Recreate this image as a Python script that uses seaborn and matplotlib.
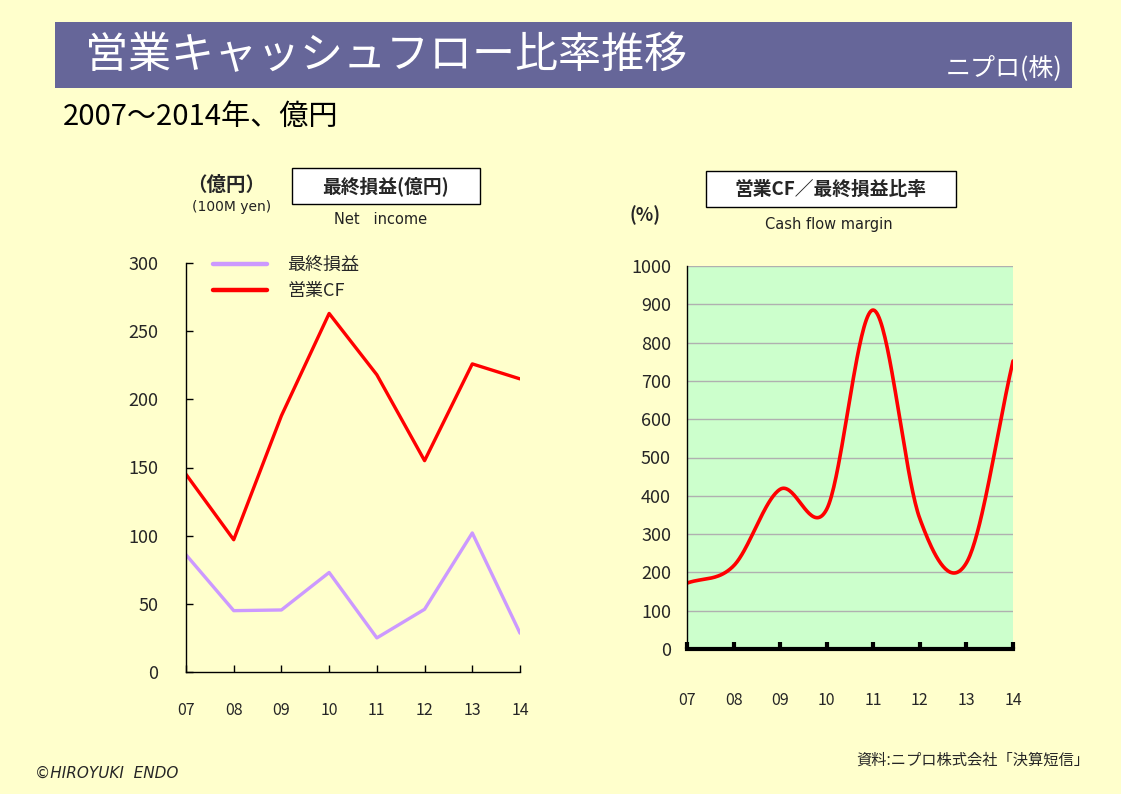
import numpy as np
import pandas as pd
import matplotlib
matplotlib.use("Agg")
import matplotlib.pyplot as plt
from matplotlib.patches import Rectangle
import seaborn as sns

# ---- data ----
years = ["07", "08", "09", "10", "11", "12", "13", "14"]
net_income = [86, 45, 45.5, 73, 25, 46, 102, 28.5]
operating_cf = [145, 97, 188, 263, 218, 155, 226, 215]
cf_ratio = [172, 217, 417, 365, 885, 340, 225, 752]
left_yticks = [0, 50, 100, 150, 200, 250, 300]
right_yticks = [0, 100, 200, 300, 400, 500, 600, 700, 800, 900, 1000]

sns.set_theme(style="white")
plt.rcParams['font.family'] = ['Noto Sans CJK JP', 'DejaVu Sans']

W, H = 1121, 794
BG = "#FFFFCC"
fig = plt.figure(figsize=(W / 100, H / 100), dpi=100, facecolor=BG)


def fx(x):
    return x / W


def fy(y):
    return 1 - y / H


def ax_rect(x0, y0, x1, y1):
    return [fx(x0), fy(y1), fx(x1) - fx(x0), (y1 - y0) / H]


def box(x0, y0, x1, y1):
    fig.patches.append(Rectangle((fx(x0), fy(y1)), fx(x1) - fx(x0), (y1 - y0) / H,
                                 transform=fig.transFigure, fc="white",
                                 ec="black", lw=1, zorder=1))


# ---- title bar ----
bar = fig.add_axes(ax_rect(55, 22, 1072, 88))
bar.set_facecolor("#666699")
bar.set_xticks([]); bar.set_yticks([])
for s in bar.spines.values():
    s.set_visible(False)
fig.text(fx(85), fy(56), "営業キャッシュフロー比率推移", color="white", fontsize=31,
         va="center", ha="left")
fig.text(fx(1063), fy(68), "ニプロ(株)", color="white", fontsize=18,
         va="center", ha="right")
fig.text(fx(63), fy(117), "2007～2014年、億円", color="black", fontsize=21,
         va="center", ha="left")

# ---- left chart ----
axL = fig.add_axes(ax_rect(186, 263, 520, 672))
axL.set_facecolor("none")
dfL = pd.DataFrame({
    "x": list(range(len(years))) * 2,
    "value": net_income + operating_cf,
    "series": ["最終損益"] * len(years) + ["営業CF"] * len(years),
})
sns.lineplot(data=dfL, x="x", y="value", hue="series",
             palette={"最終損益": "#CC99FF", "営業CF": "#FF0000"},
             linewidth=2.4, ax=axL, estimator=None, sort=False)
axL.set_xlim(0, len(years) - 1)
axL.set_ylim(0, 300)
axL.set_yticks(left_yticks)
axL.set_xticks(range(len(years)))
axL.set_xticklabels(years)
axL.set_xlabel(""); axL.set_ylabel("")
for s in ["top", "right"]:
    axL.spines[s].set_visible(False)
for s in ["left", "bottom"]:
    axL.spines[s].set_color("black")
    axL.spines[s].set_linewidth(1.0)
axL.tick_params(axis="y", direction="in", length=5, width=1, color="black",
                labelsize=13, pad=20, left=True)
axL.tick_params(axis="x", direction="in", length=5, width=1, color="black",
                labelsize=11.5, pad=21.5, bottom=True)
h, l = axL.get_legend_handles_labels()
for hh in h:
    hh.set_linewidth(3.2)
leg = axL.legend(h, l, loc="upper left", bbox_to_anchor=(fx(197), fy(240)),
                 bbox_transform=fig.transFigure, frameon=False, fontsize=13,
                 handlelength=3.0, handletextpad=1.1, labelspacing=0.45)

# headers left
fig.text(fx(226), fy(185), "（億円）", fontsize=14, fontweight="bold",
         ha="center", va="center")
fig.text(fx(232), fy(207), "(100M yen)", fontsize=10, ha="center", va="center",
         family=["DejaVu Sans"], color="#222222")
box(292, 168, 480, 204)
fig.text(fx(386), fy(186), "最終損益(億円)", fontsize=13.5, fontweight="bold",
         ha="center", va="center", zorder=3)
fig.text(fx(381), fy(219), "Net   income", fontsize=10.5, ha="center",
         va="center", family=["DejaVu Sans"], color="#222222")

# ---- right chart ----
axR = fig.add_axes(ax_rect(687, 266, 1013, 649))
axR.set_facecolor("#CCFFCC")


def catmull_rom(vals, n=40):
    v = np.asarray(vals, dtype=float)
    m = np.zeros_like(v)
    m[1:-1] = (v[2:] - v[:-2]) / 2
    m[0] = v[1] - v[0]
    m[-1] = v[-1] - v[-2]
    xs, ys = [], []
    for i in range(len(v) - 1):
        t = np.linspace(0, 1, n, endpoint=(i == len(v) - 2))
        h00 = 2 * t**3 - 3 * t**2 + 1
        h10 = t**3 - 2 * t**2 + t
        h01 = -2 * t**3 + 3 * t**2
        h11 = t**3 - t**2
        ys.append(h00 * v[i] + h10 * m[i] + h01 * v[i + 1] + h11 * m[i + 1])
        xs.append(i + t)
    return np.concatenate(xs), np.concatenate(ys)


sx, sy = catmull_rom(cf_ratio)
dfR = pd.DataFrame({"x": sx, "ratio": sy})
sns.lineplot(data=dfR, x="x", y="ratio", color="#FF0000", linewidth=2.6,
             ax=axR, estimator=None, sort=False)
axR.set_xlim(0, len(years) - 1)
axR.set_ylim(0, 1000)
axR.set_yticks(right_yticks)
axR.set_xticks(range(len(years)))
axR.set_xticklabels(years)
axR.set_xlabel(""); axR.set_ylabel("")
axR.yaxis.grid(True, color="#B0B0B0", linewidth=1)
axR.xaxis.grid(False)
axR.set_axisbelow(True)
for s in ["top", "right"]:
    axR.spines[s].set_visible(False)
axR.spines["left"].set_color("black")
axR.spines["left"].set_linewidth(1.0)
axR.spines["bottom"].set_color("black")
axR.spines["bottom"].set_linewidth(3)
axR.tick_params(axis="y", length=0, labelsize=13, pad=11.5, left=False)
axR.tick_params(axis="x", direction="in", length=5, width=3, color="black",
                labelsize=11.5, pad=31, bottom=True)

box(706, 171, 956, 207)
fig.text(fx(831), fy(189), "営業CF／最終損益比率", fontsize=13.5, fontweight="bold",
         ha="center", va="center", zorder=3)
fig.text(fx(645), fy(215), "(%)", fontsize=13, fontweight="bold",
         ha="center", va="center")
fig.text(fx(829), fy(224), "Cash flow margin", fontsize=10.5, ha="center",
         va="center", family=["DejaVu Sans"], color="#222222")

# ---- footer ----
fig.text(fx(35), fy(773), "©HIROYUKI  ENDO", fontsize=11, style="italic",
         ha="left", va="center", family=["DejaVu Sans"])
fig.text(fx(1089), fy(760), "資料:ニプロ株式会社「決算短信」", fontsize=11,
         ha="right", va="center")

fig.savefig("out.png", dpi=100, facecolor=BG)
